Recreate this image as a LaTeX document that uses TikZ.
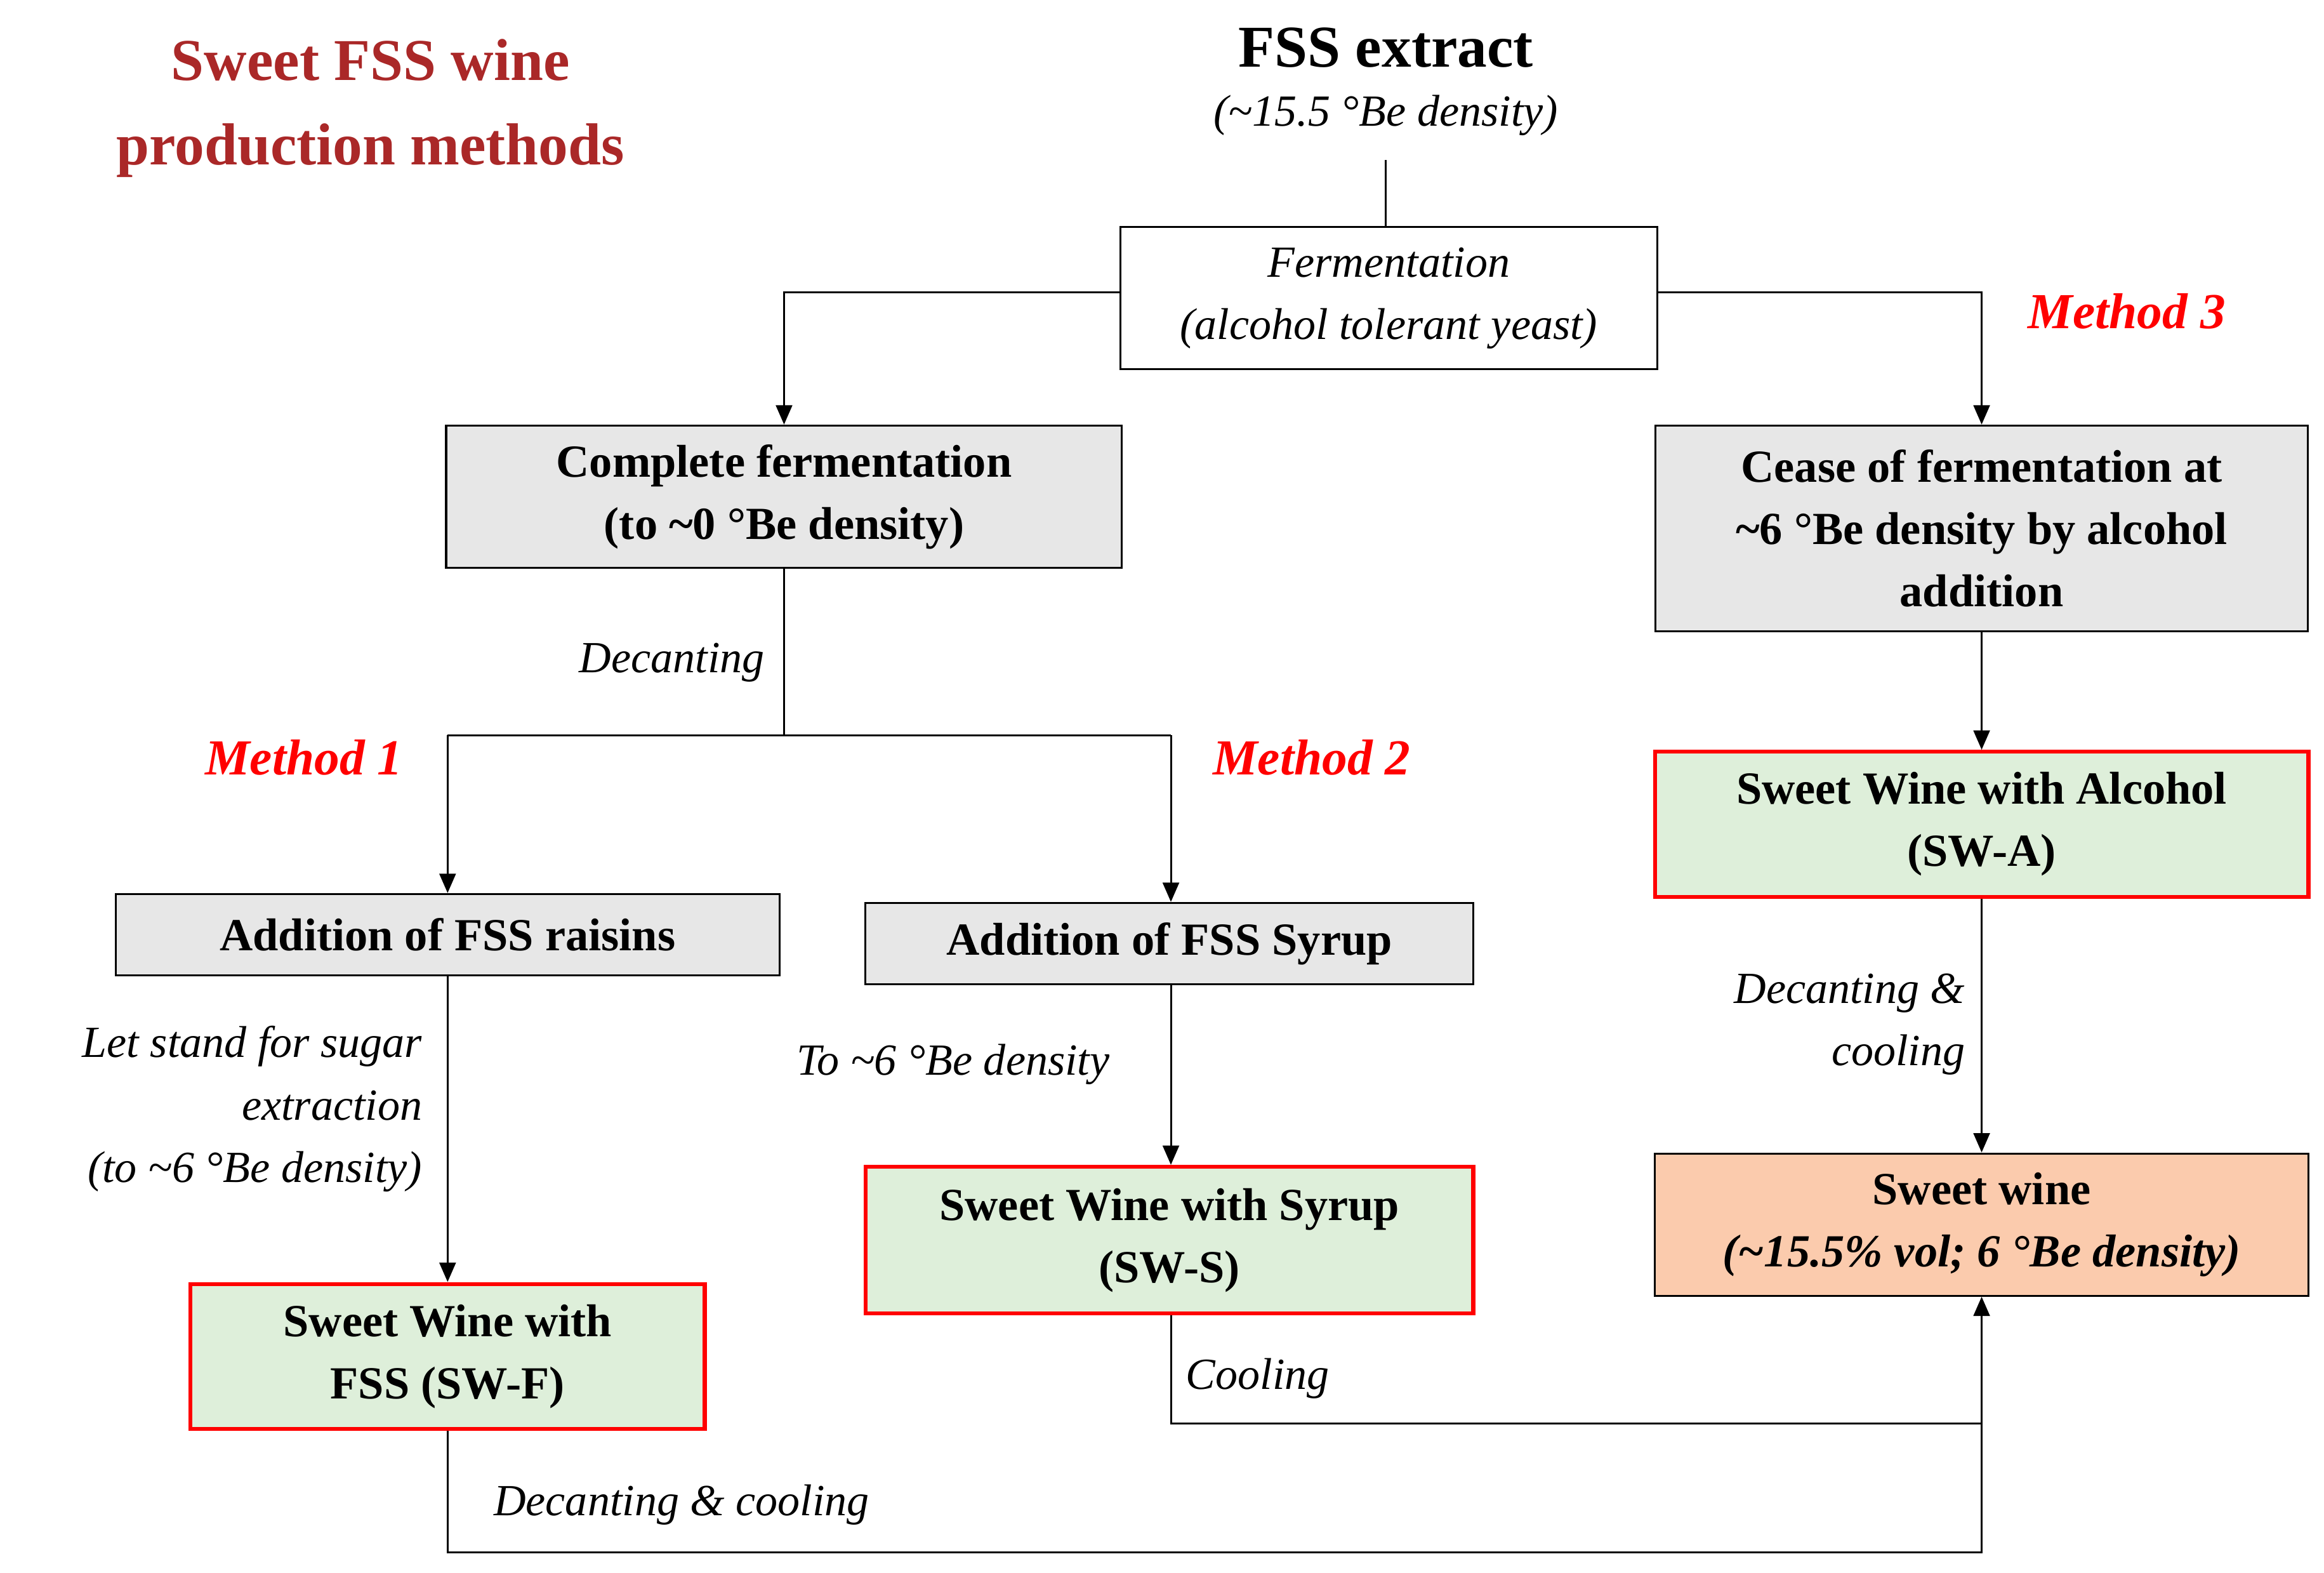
\documentclass[tikz,border=0pt]{standalone}
\usepackage{fontspec}
\setmainfont{Liberation Serif}
\usetikzlibrary{arrows.meta}
\definecolor{ttl}{RGB}{170,40,40}
\definecolor{gbox}{RGB}{231,231,231}
\definecolor{grn}{RGB}{222,239,218}
\definecolor{org}{RGB}{251,203,173}
\tikzset{
 bx/.style={draw=black,line width=1.3pt,align=center,inner sep=0pt,font=\fontsize{31}{42}\selectfont\bfseries},
 gray/.style={bx,fill=gbox},
 res/.style={bx,fill=grn,draw=red,line width=2.6pt},
 lab/.style={font=\fontsize{30}{42}\selectfont\itshape,inner sep=0pt},
 meth/.style={font=\fontsize{34}{40}\selectfont\bfseries\itshape,text=red,inner sep=0pt},
 ln/.style={line width=1.3pt},
 ar/.style={ln,-{Triangle[length=13pt,width=11pt]}}
}
\begin{document}
\begin{tikzpicture}[x=1pt,y=-1pt]
\useasboundingbox (0,0) rectangle (1568,1061);
\node[align=center,text=ttl,font=\fontsize{40}{57}\selectfont\bfseries] (title) at (250,73) {Sweet FSS wine\\production methods};
\node[font=\fontsize{40}{48}\selectfont\bfseries,inner sep=0pt] (ext) at (935,32) {FSS extract};
\node[lab] (extd) at (935,78) {(\textasciitilde15.5 °Be density)};
\coordinate (extb) at (935,108);
\node[bx,font=\fontsize{30}{42}\selectfont\itshape,minimum width=362,minimum height=96] (ferm) at (937,201) {Fermentation\\(alcohol tolerant yeast)};
\node[gray,minimum width=456,minimum height=96] (comp) at (529,335) {Complete fermentation\\(to \textasciitilde0 °Be density)};
\node[gray,minimum width=440,minimum height=139] (cease) at (1337,356.5) {Cease of fermentation at\\\textasciitilde6 °Be density by alcohol\\addition};
\node[meth] (m3) at (1435,210) {Method 3};
\node[lab,anchor=east] (dec) at (516,447) {Decanting};
\coordinate (split) at (529,496);
\coordinate (sl) at (302,496);
\coordinate (sr) at (790,496);
\node[meth] (m1) at (205,511) {Method 1};
\node[meth] (m2) at (885,511) {Method 2};
\node[gray,minimum width=448,minimum height=55] (rais) at (302,630.5) {Addition of FSS raisins};
\node[gray,minimum width=410,minimum height=55] (syr) at (789,636.5) {Addition of FSS Syrup};
\node[res,minimum width=441,minimum height=98] (swa) at (1337,556) {Sweet Wine with Alcohol\\(SW-A)};
\node[lab,anchor=east,align=right] (dc3) at (1326,691) {Decanting \&\\cooling};
\node[bx,fill=org,minimum width=441,minimum height=96] (sw) at (1337,826) {Sweet wine\\{\itshape(\textasciitilde15.5\% vol; 6 °Be density)}};
\node[lab,anchor=east,align=right] (ls) at (285,748) {Let stand for sugar\\extraction\\(to \textasciitilde6 °Be density)};
\node[res,minimum width=347,minimum height=98] (swf) at (302,915) {Sweet Wine with\\FSS (SW-F)};
\node[lab] (to6) at (643,718) {To \textasciitilde6 °Be density};
\node[res,minimum width=410,minimum height=99] (sws) at (789,836.5) {Sweet Wine with Syrup\\(SW-S)};
\node[lab,anchor=west] (cool) at (800,930) {Cooling};
\node[lab,anchor=west] (dcc) at (333,1015) {Decanting \& cooling};
\coordinate (c1) at (790,960);
\coordinate (c2) at (1337,960);
\coordinate (c3) at (302,1047);
\coordinate (c4) at (1337,1047);
\draw[ln] (extb) -- (ferm.north -| extb);
\draw[ar] (ferm.west |- 0,197) -| (comp.north);
\draw[ar] (ferm.east |- 0,197) -| (cease.north);
\draw[ln] (comp.south) -- (split);
\draw[ln] (sl) -- (sr);
\draw[ar] (sl) -- (rais.north -| sl);
\draw[ar] (sr) -- (syr.north -| sr);
\draw[ar] (cease) -- (swa);
\draw[ar] (swa) -- (sw);
\draw[ar] (rais.south -| sl) -- (swf.north -| sl);
\draw[ar] (syr.south -| sr) -- (sws.north -| sr);
\draw[ln] (sws.south -| c1) -- (c1) -- (c2);
\draw[ln] (swf.south -| c3) -- (c3) -- (c4) -- (c2);
\draw[ar] (c2) -- (sw.south);
\end{tikzpicture}
\end{document}
